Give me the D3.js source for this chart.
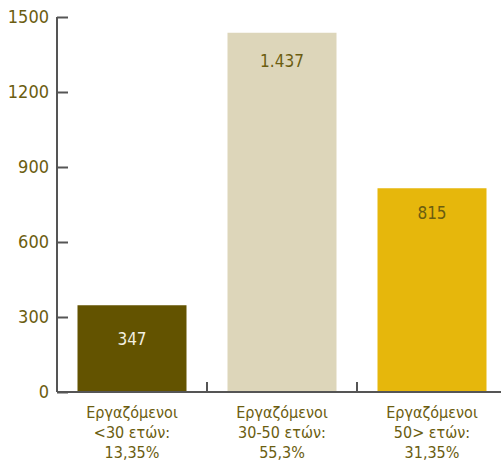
<!DOCTYPE html>
<html>
<head>
<meta charset="utf-8">
<script src="https://cdn.jsdelivr.net/npm/d3@7"></script>
<style>
  body { margin: 0; background: #fff; }
  svg text { font-family: "DejaVu Sans Condensed", "DejaVu Sans", sans-serif; }
</style>
</head>
<body>
<div id="chart"></div>
<script>
const categories = [
  ["Εργαζόμενοι", "<30 ετών:", "13,35%"],
  ["Εργαζόμενοι", "30-50 ετών:", "55,3%"],
  ["Εργαζόμενοι", "50> ετών:", "31,35%"]
];
const values = [347, 1437, 815];
const valueLabels = ["347", "1.437", "815"];
const barColors = ["#635300", "#ddd6ba", "#e6b70c"];
const labelColors = ["#f3efe0", "#6b5d10", "#6b5d10"];
const labelOffsets = [40, 34, 31];
const yTicks = [0, 300, 600, 900, 1200, 1500];

const W = 501, H = 462;
const margin = {top: 17, right: -6, bottom: 70, left: 57};
const width = W - margin.left - margin.right,
  height = H - margin.top - margin.bottom;
const textColor = "#6b5d10";

const svg = d3.select("#chart").append("svg")
    .attr("width", W)
    .attr("height", H)
  .append("g")
    .attr("transform", "translate(" + margin.left + "," + margin.top + ")");

const xTicks = d3.scaleBand().domain(d3.range(categories.length)).range([0, width]);
const y = d3.scaleLinear().domain([0, 1500]).range([height, 0]);
const barW = 109;

// bars
svg.append("g").selectAll("rect")
  .data(values)
  .enter().append("rect")
    .attr("x", (d, i) => xTicks(i) + (xTicks.bandwidth() - barW) / 2)
    .attr("width", barW)
    .attr("y", d => y(d))
    .attr("height", d => height - y(d))
    .attr("fill", (d, i) => barColors[i]);

// value labels
svg.append("g").selectAll("text")
  .data(values)
  .enter().append("text")
    .attr("x", (d, i) => xTicks(i) + xTicks.bandwidth() / 2)
    .attr("y", (d, i) => y(d) + labelOffsets[i])
    .attr("text-anchor", "middle")
    .attr("font-size", 17)
    .attr("fill", (d, i) => labelColors[i])
    .text((d, i) => valueLabels[i]);

// y axis
const yAxis = svg.append("g")
  .call(d3.axisRight(y).tickValues(yTicks).tickSize(11).tickFormat(""));
yAxis.selectAll("line, path").attr("stroke", "#555").attr("stroke-width", 2);
yAxis.select("path").attr("d", "M0," + height + "V0");
svg.append("g").selectAll("text")
  .data(yTicks)
  .enter().append("text")
    .attr("x", -8)
    .attr("y", d => y(d))
    .attr("dy", "0.36em")
    .attr("text-anchor", "end")
    .attr("font-size", 18)
    .attr("fill", textColor)
    .text(d => d);

// x axis
const xAxisG = svg.append("g")
  .attr("transform", "translate(0," + height + ")");
xAxisG.append("line")
  .attr("x1", 0).attr("x2", width)
  .attr("stroke", "#555").attr("stroke-width", 2);
xAxisG.selectAll(".tick")
  .data(d3.range(1, categories.length))
  .enter().append("line")
    .attr("x1", i => xTicks(i)).attr("x2", i => xTicks(i))
    .attr("y1", 0).attr("y2", -10)
    .attr("stroke", "#555").attr("stroke-width", 2);

const catLabels = xAxisG.selectAll(".cat")
  .data(categories)
  .enter().append("text")
    .attr("class", "cat")
    .attr("text-anchor", "middle")
    .attr("font-size", 16)
    .attr("fill", textColor)
    .attr("transform", (d, i) => "translate(" + (xTicks(i) + xTicks.bandwidth() / 2) + ",0)");
catLabels.selectAll("tspan")
  .data(d => d)
  .enter().append("tspan")
    .attr("x", 0)
    .attr("y", (d, i) => 26 + i * 20)
    .text(d => d);
</script>
</body>
</html>
